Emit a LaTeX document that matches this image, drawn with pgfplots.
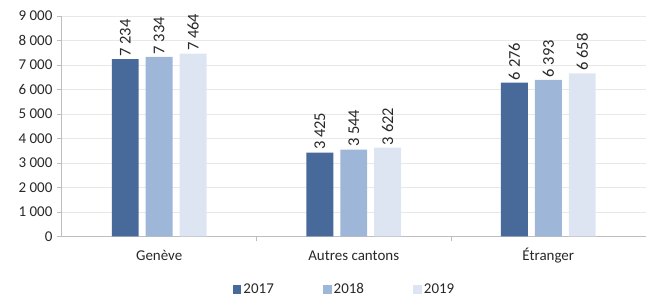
\documentclass[border=0pt]{standalone}
\usepackage{pgfplots}
\pgfplotsset{compat=1.18}
\usepackage{fontspec}
\setmainfont{Carlito}
\definecolor{cA}{RGB}{71,106,155}
\definecolor{cB}{RGB}{158,182,216}
\definecolor{cC}{RGB}{221,229,242}
\definecolor{gridc}{RGB}{232,232,232}
\definecolor{axc}{RGB}{190,190,190}
\definecolor{txt}{RGB}{40,40,40}
\begin{document}
\begin{tikzpicture}
\begin{axis}[
  scale only axis,
  width=585pt, height=221pt,
  xmin=-0.5, xmax=2.5,
  ymin=0, ymax=9000,
  ytick={0,1000,...,9000},
  ymajorgrids,
  grid style={gridc, line width=0.8pt},
  axis x line*=bottom,
  axis y line*=left,
  axis line style={axc, line width=0.8pt},
  ybar, bar width=27pt,
  xtick={0,1,2},
  xticklabels={Genève, Autres cantons, Étranger},
  major x tick style={draw=none},
  extra x ticks={0.5,1.5},
  extra x tick labels={},
  extra x tick style={major tick length=5pt, tick align=outside, major x tick style={draw=axc, line width=0.8pt}},
  ytick style={draw=axc, line width=0.8pt},
  major tick length=5pt,
  tick align=outside,
  /pgf/number format/assume math mode=true,
  /pgf/number format/1000 sep={\ },
  yticklabel style={font=\fontsize{15}{18}\selectfont, text=txt, xshift=-1pt},
  xticklabel style={font=\fontsize{15}{18}\selectfont, text=txt, text height=11pt, text depth=3pt, yshift=-5pt},
  nodes near coords,
  every node near coord/.append style={rotate=90, anchor=west, font=\fontsize{16.5}{19}\selectfont, text=txt, inner sep=2.5pt},
  legend columns=3,
  legend style={at={(0.484,0)}, anchor=center, yshift=-53pt, draw=none, font=\fontsize{15}{18}\selectfont, text=txt,
    /tikz/every even column/.append style={column sep=47pt}},
  legend image code/.code={\fill[#1,draw=none] (0pt,-4.5pt) rectangle (9pt,4.5pt);},
]
\addplot[fill=cA, draw=none, bar shift=-34pt] coordinates {(0,7234) (1,3425) (2,6276)};
\addplot[fill=cB, draw=none, bar shift=0pt] coordinates {(0,7334) (1,3544) (2,6393)};
\addplot[fill=cC, draw=none, bar shift=34pt] coordinates {(0,7464) (1,3622) (2,6658)};
\legend{2017,2018,2019}
\end{axis}
\path[use as bounding box] (-62pt,-58pt) rectangle (584pt,237pt);
\end{tikzpicture}
\end{document}
